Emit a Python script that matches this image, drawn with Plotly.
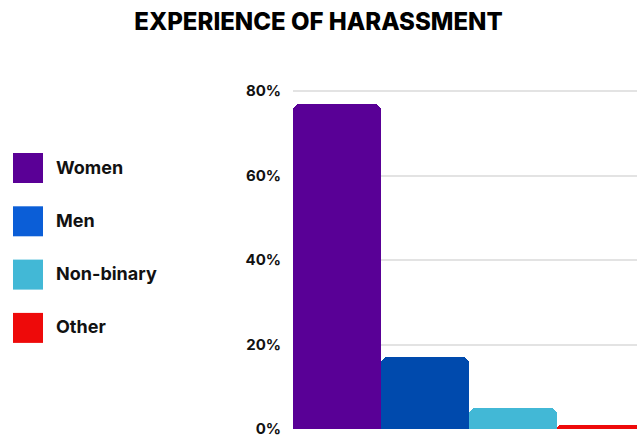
import plotly.graph_objects as go

categories = ["Women", "Men", "Non-binary", "Other"]
values = [77, 17, 5, 1]
bar_colors = ["#590096", "#004AAD", "#42B8D6", "#EE0A0A"]
legend_colors = ["#5A0096", "#0B5ED7", "#42B8D6", "#EE0A0A"]
y_ticks = [0, 20, 40, 60, 80]
y_tick_labels = ["0%", "20%", "40%", "60%", "80%"]

fig = go.Figure()
for i, (c, v) in enumerate(zip(categories, values)):
    fig.add_trace(go.Bar(
        x=[i], y=[v], name=c, width=1,
        marker=dict(color=bar_colors[i], line=dict(width=0), cornerradius=7),
        showlegend=False, hoverinfo="skip",
    ))

W, H = 637, 437
ml, mr, mt, mb = 293, 0, 89, 8
pw = W - ml - mr
ph = H - mt - mb

FONT = "Inter"

# custom legend
y0 = 153
step = 53.3
for i, c in enumerate(categories):
    top = y0 + i * step
    fig.add_shape(type="rect", xref="paper", yref="paper",
                  x0=(13 - ml) / pw, x1=(43 - ml) / pw,
                  y0=1 - (top + 30 - mt) / ph, y1=1 - (top - mt) / ph,
                  fillcolor=legend_colors[i], line=dict(width=0))
    fig.add_annotation(xref="paper", yref="paper", x=(54 - ml) / pw,
                       y=1 - (top + 14 - mt) / ph,
                       text=c, showarrow=False, xanchor="left", yanchor="middle",
                       font=dict(family=FONT, size=18, color="#111111", weight="bold"))

fig.update_layout(
    width=W, height=H,
    margin=dict(l=ml, r=mr, t=mt, b=mb),
    paper_bgcolor="white", plot_bgcolor="white",
    bargap=0,
    title=dict(text="EXPERIENCE OF HARASSMENT", x=0.5, xanchor="center", y=1 - 22 / H, yanchor="middle",
               font=dict(family=FONT, size=24, color="#000000", weight=800)),
    xaxis=dict(range=[-0.5, 3.5 - 8 / 88], showticklabels=False, showgrid=False, zeroline=False,
               showline=False, ticks=""),
    yaxis=dict(range=[0, 80.5], tickmode="array", tickvals=y_ticks, ticktext=y_tick_labels,
               showgrid=True, gridcolor="#E3E3E3", ticklabeloverflow="allow",
               gridwidth=1.5, zeroline=False, showline=False, ticklabelstandoff=11,
               tickfont=dict(family=FONT, size=15, color="#111111", weight="bold")),
)

fig.write_html("out.html", config={"displayModeBar": False},
               post_script="document.body.style.margin='0';document.body.style.overflow='hidden';")
